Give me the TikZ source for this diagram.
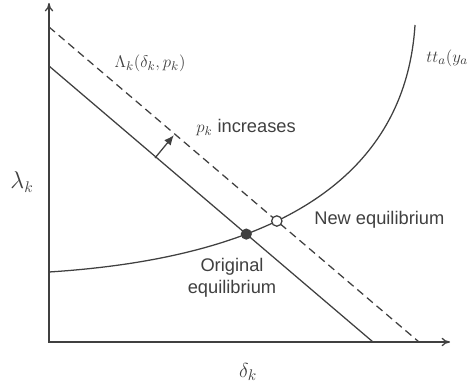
\documentclass[tikz,border=0pt]{standalone}
\usepackage{fontspec}
\setmainfont{Liberation Sans}
\usetikzlibrary{intersections,arrows.meta}

\begin{document}
\begin{tikzpicture}[line width=0.9pt, black!75, font=\fontsize{13}{15.5}\selectfont]
        \useasboundingbox (-1.225,-1.125) rectangle (10.475,8.55);
        \coordinate (O) at (0,0);
        \coordinate (Y) at (0,8.475);
        \coordinate (X) at (10.025,0);
        \coordinate (A) at (0,6.9);
        \coordinate (B) at (8.1,0);
        \coordinate (C) at (0,7.875);
        \coordinate (D) at (9.25,0);
        \coordinate (S) at (0,1.75);
        \coordinate (T) at (9.15,7.925);
        \draw[{To[length=6pt,width=6pt]}-{To[length=6pt,width=6pt]}] (Y) -- (O) -- (X);
        \node[font=\fontsize{16}{18}\selectfont] (lam) at (-0.675,4.0) {$\lambda_k$};
        \node[font=\fontsize{15}{18}\selectfont] (del) at (4.975,-0.75) {$\delta_k$};
        \draw[name path=old] (A) -- (B);
        \draw[name path=new, dash pattern=on 5.5pt off 3.5pt] (C) -- (D);
        \draw[name path=tt] (S) .. controls (5.5,2.1) and (8.9,4.0) .. (T);
        \path[name intersections={of=old and tt, by=E1}];
        \path[name intersections={of=new and tt, by=E2}];
        \fill (E1) circle (0.14);
        \draw[fill=white] (E2) circle (0.13);
        \draw[-{Latex[length=7pt,width=6pt]}] (2.65,4.6) -- (3.12,5.17);
        \node (Lab) at (2.525,6.975) {$\Lambda_k(\delta_k, p_k)$};
        \node[anchor=west] (inc) at (3.55,5.35) {$p_k$ increases};
        \node[anchor=west] (tta) at (9.3,7.1) {$tt_a(y_a)$};
        \node[anchor=west] (neq) at (6.5,3.05) {New equilibrium};
        \node[align=center] (oeq) at (4.575,1.6) {Original\\equilibrium};
    \end{tikzpicture}
\end{document}
